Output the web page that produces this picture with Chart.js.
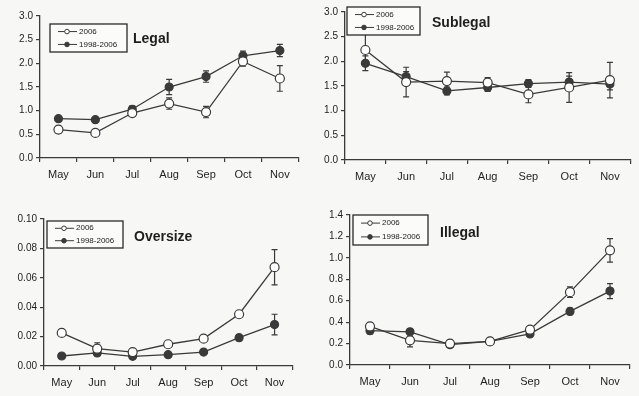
<!DOCTYPE html>
<html>
<head>
<meta charset="utf-8">
<script src="https://cdn.jsdelivr.net/npm/chart.js@4.4.0/dist/chart.umd.min.js"></script>
<style>
  body { margin: 0; background: #f7f7f5; }
  #wrap { position: relative; width: 639px; height: 396px; overflow: hidden; background: #f7f7f5; }
  .panel { position: absolute; }
</style>
</head>
<body>
<div id="wrap">
  <div class="panel" style="left:0px;top:0px;width:304px;height:185px"><canvas id="cLegal"></canvas></div>
  <div class="panel" style="left:310px;top:0px;width:326px;height:188px"><canvas id="cSublegal"></canvas></div>
  <div class="panel" style="left:0px;top:200px;width:298px;height:195px"><canvas id="cOversize"></canvas></div>
  <div class="panel" style="left:310px;top:200px;width:326px;height:194px"><canvas id="cIllegal"></canvas></div>
</div>
<script>
// months on the x axis and the two series
const months = ["May", "Jun", "Jul", "Aug", "Sep", "Oct", "Nov"];
const seriesNames = ["2006", "1998-2006"];

// Legal
const legal2006 = [0.60, 0.53, 0.95, 1.15, 0.97, 2.04, 1.68];
const legal2006Err = [0.07, 0.04, 0.05, 0.12, 0.12, 0.10, 0.27];
const legalAvg = [0.83, 0.81, 1.03, 1.50, 1.72, 2.16, 2.27];
const legalAvgErr = [0.03, 0.03, 0.07, 0.16, 0.12, 0.10, 0.13];

// Sublegal
const sublegal2006 = [2.23, 1.58, 1.60, 1.57, 1.33, 1.47, 1.62];
const sublegal2006Err = [0.32, 0.30, 0.18, 0.10, 0.17, 0.30, 0.36];
const sublegalAvg = [1.96, 1.69, 1.40, 1.47, 1.55, 1.58, 1.54];
const sublegalAvgErr = [0.15, 0.10, 0.08, 0.08, 0.08, 0.12, 0.12];

// Oversize
const oversize2006 = [0.0225, 0.0118, 0.0095, 0.0148, 0.0186, 0.0352, 0.0672];
const oversize2006Err = [0.001, 0.004, 0.001, 0.001, 0.001, 0.002, 0.012];
const oversizeAvg = [0.0068, 0.0089, 0.0066, 0.0077, 0.0095, 0.0193, 0.0282];
const oversizeAvgErr = [0.001, 0.002, 0.001, 0.001, 0.001, 0.002, 0.007];

// Illegal
const illegal2006 = [0.36, 0.23, 0.20, 0.22, 0.33, 0.68, 1.07];
const illegal2006Err = [0.03, 0.06, 0.03, 0.02, 0.02, 0.05, 0.11];
const illegalAvg = [0.32, 0.31, 0.19, 0.22, 0.29, 0.50, 0.69];
const illegalAvgErr = [0.03, 0.03, 0.02, 0.02, 0.02, 0.03, 0.07];

const INK = "#3a3a3a";
const FONT = "'Liberation Sans', Arial, sans-serif";

// vertical error bars with caps, drawn under the points
const errorBars = {
  id: "errorBars",
  beforeDatasetsDraw(chart) {
    const ctx = chart.ctx;
    const y = chart.scales.y;
    chart.data.datasets.forEach((ds, i) => {
      const meta = chart.getDatasetMeta(i);
      ctx.save();
      ctx.strokeStyle = INK;
      ctx.lineWidth = 1.2;
      meta.data.forEach((pt, j) => {
        const e = ds.errors[j];
        const top = y.getPixelForValue(ds.data[j] + e);
        const bot = y.getPixelForValue(ds.data[j] - e);
        ctx.beginPath();
        ctx.moveTo(pt.x, top); ctx.lineTo(pt.x, bot);
        ctx.moveTo(pt.x - 3, top); ctx.lineTo(pt.x + 3, top);
        ctx.moveTo(pt.x - 3, bot); ctx.lineTo(pt.x + 3, bot);
        ctx.stroke();
      });
      ctx.restore();
    });
  }
};

// boxed legend and bold panel title inside the plot
const boxLegend = {
  id: "boxLegend",
  afterDraw(chart, args, opts) {
    const ctx = chart.ctx;
    const a = chart.chartArea;
    const bx = a.left + opts.dx, by = a.top + opts.dy;
    ctx.save();
    ctx.fillStyle = "#fbfbfa";
    ctx.fillRect(bx, by, opts.w, opts.h);
    ctx.strokeStyle = "#2a2a2a";
    ctx.lineWidth = 1.3;
    ctx.strokeRect(bx, by, opts.w, opts.h);
    ctx.font = "8px " + FONT;
    ctx.textBaseline = "middle";
    chart.data.datasets.forEach((ds, i) => {
      const ly = by + opts.h * (i === 0 ? 0.27 : 0.73);
      ctx.strokeStyle = INK;
      ctx.lineWidth = 1;
      ctx.beginPath();
      ctx.moveTo(bx + 8, ly); ctx.lineTo(bx + 27, ly);
      ctx.stroke();
      ctx.beginPath();
      ctx.arc(bx + 17, ly, 2.3, 0, Math.PI * 2);
      ctx.fillStyle = ds.pointBackgroundColor;
      ctx.fill();
      ctx.stroke();
      ctx.fillStyle = "#222";
      ctx.fillText(ds.label, bx + 29, ly);
    });
    ctx.font = "bold 14px " + FONT;
    ctx.fillStyle = "#1e1e1e";
    ctx.textBaseline = "alphabetic";
    ctx.fillText(opts.title, a.left + opts.tx, a.top + opts.ty);
    ctx.restore();
  }
};

function makePanel(id, vals, errs, valsAvg, errsAvg, yMax, yStep, decimals, lay) {
  const series = (label, data, errors, fill, radius) => ({
    label: label,
    data: data,
    errors: errors,
    borderColor: INK,
    borderWidth: 1.3,
    pointRadius: radius,
    pointBorderWidth: 1.2,
    pointBorderColor: INK,
    pointBackgroundColor: fill,
    tension: 0
  });
  return new Chart(document.getElementById(id), {
    type: "line",
    data: {
      labels: months,
      datasets: [
        series(seriesNames[0], vals, errs, "#ffffff", 4.5),
        series(seriesNames[1], valsAvg, errsAvg, INK, 4)
      ]
    },
    options: {
      responsive: true,
      maintainAspectRatio: false,
      animation: false,
      layout: { padding: { top: lay.top, right: lay.right, left: 0, bottom: 0 } },
      plugins: {
        legend: { display: false },
        tooltip: { enabled: false },
        boxLegend: lay.legend
      },
      scales: {
        x: {
          offset: true,
          grid: { display: true, offset: true, drawOnChartArea: false, drawTicks: true, tickLength: 4, color: INK, lineWidth: 1.2 },
          border: { display: true, color: INK, width: 1.3 },
          ticks: { color: "#1e1e1e", font: { family: FONT, size: 11 }, padding: 6, maxRotation: 0, autoSkip: false },
          afterFit(scale) { scale.height = lay.xh; }
        },
        y: {
          min: 0,
          max: yMax,
          grid: { display: true, drawOnChartArea: false, drawTicks: true, tickLength: 4, color: INK, lineWidth: 1.2 },
          border: { display: true, color: INK, width: 1.3 },
          ticks: {
            stepSize: yStep,
            color: "#1e1e1e",
            font: { family: FONT, size: 10 },
            padding: 3,
            callback: (v) => Number(v).toFixed(decimals)
          },
          afterFit(scale) { scale.width = lay.yw; }
        }
      }
    },
    plugins: [errorBars, boxLegend]
  });
}

makePanel("cLegal", legal2006, legal2006Err, legalAvg, legalAvgErr, 3.0, 0.5, 1, {
  top: 16, right: 2, xh: 27, yw: 40,
  legend: { dx: 10, dy: 8, w: 77, h: 28, tx: 93, ty: 27, title: "Legal" }
});
makePanel("cSublegal", sublegal2006, sublegal2006Err, sublegalAvg, sublegalAvgErr, 3.0, 0.5, 1, {
  top: 12, right: 3, xh: 28, yw: 35,
  legend: { dx: 2, dy: -5, w: 73, h: 28, tx: 87, ty: 15, title: "Sublegal" }
});
makePanel("cOversize", oversize2006, oversize2006Err, oversizeAvg, oversizeAvgErr, 0.10, 0.02, 2, {
  top: 19, right: 4, xh: 29, yw: 44,
  legend: { dx: 3, dy: 2, w: 76, h: 27, tx: 90, ty: 22, title: "Oversize" }
});
makePanel("cIllegal", illegal2006, illegal2006Err, illegalAvg, illegalAvgErr, 1.4, 0.2, 1, {
  top: 15, right: 6, xh: 29, yw: 40,
  legend: { dx: 3, dy: 0, w: 75, h: 30, tx: 90, ty: 22, title: "Illegal" }
});
</script>
</body>
</html>
